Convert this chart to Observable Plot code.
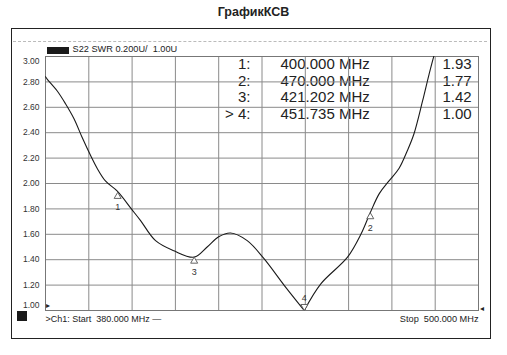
<!DOCTYPE html>
<html>
<head>
<meta charset="utf-8">
<script src="https://cdn.jsdelivr.net/npm/d3@7"></script>
<script src="https://cdn.jsdelivr.net/npm/@observablehq/plot@0.6"></script>
<style>
  html, body { margin: 0; padding: 0; background: #fff; }
  #wrap { position: relative; width: 507px; height: 355px; font-family: "Liberation Sans", Arial, sans-serif; }
  #title { position: absolute; left: 0; width: 507px; top: 5px; text-align: center; font-weight: bold; font-size: 12.5px; color: #222; }
  #box { position: absolute; left: 11px; top: 28px; width: 478px; height: 309px; border: 1.5px solid #222; }
  #dash { position: absolute; left: 13px; top: 41px; width: 474px; border-top: 1px dashed #bbb; }
  #sw1 { position: absolute; left: 47px; top: 47px; width: 22px; height: 7px; background: #1a1a1a; }
  #sw2 { position: absolute; left: 17px; top: 311px; width: 10px; height: 10px; background: #1a1a1a; }
  #chart { position: absolute; left: 0; top: 0; }
</style>
</head>
<body>
<div id="wrap">
  <div id="title">ГрафикКСВ</div>
  <div id="box"></div>
  <div id="dash"></div>
  <div id="sw1"></div>
  <div id="sw2"></div>
  <div id="chart"></div>
</div>
<script>
// Trace data (MHz, SWR)
const freqs = [380, 380.5, 383.2, 385.5, 387.9, 390.2, 392.5, 394.3, 396.6, 399.9, 403.8, 406.3, 410.5, 415.6, 421.2, 424.8, 428.0, 431.3, 435.9, 440.5, 446.1, 451.7, 456.3, 463.7, 467.4, 470.0, 472.5, 475.2, 478.0, 480.3, 482.1, 484.5, 486.3, 487.7, 488.5];
const swr   = [2.84, 2.82, 2.73, 2.63, 2.51, 2.36, 2.22, 2.12, 2.02, 1.94, 1.80, 1.71, 1.55, 1.47, 1.42, 1.50, 1.58, 1.61, 1.55, 1.41, 1.20, 1.00, 1.21, 1.42, 1.60, 1.77, 1.92, 2.02, 2.12, 2.26, 2.39, 2.65, 2.86, 3.01, 3.08];

// Markers
const markerIds = ["1", "2", "3", "4"];
const markerFreqs = [400.000, 470.000, 421.202, 451.735];
const markerValues = [1.93, 1.77, 1.42, 1.00];
const markerPrefix = ["1:", "2:", "3:", "> 4:"];

// Axis ticks
const yTicks = [1.0, 1.2, 1.4, 1.6, 1.8, 2.0, 2.2, 2.4, 2.6, 2.8, 3.0];
const xGrid = [380, 392, 404, 416, 428, 440, 452, 464, 476, 488, 500];

// Texts
const legendText = "S22 SWR 0.200U/\u00A0\u00A01.00U";
const startText = ">Ch1: Start\u00A0\u00A0380.000 MHz \u2014";
const stopText = "Stop\u00A0\u00A0500.000 MHz";

// split the trace at its minimum so the notch stays sharp
const iMin = swr.indexOf(Math.min(...swr));
const trace = [];
freqs.forEach((f, i) => {
  if (i <= iMin) trace.push({f, v: swr[i], seg: "a"});
  if (i >= iMin) trace.push({f, v: swr[i], seg: "b"});
});
const markers = markerIds.map((id, i) => ({id, f: markerFreqs[i], v: markerValues[i], down: i === 3}));

const tableMarks = [];
const font = "Liberation Sans, Arial, sans-serif";
markerIds.forEach((id, i) => {
  const dy = 8 + 16.4 * i;
  tableMarks.push(Plot.text([markerPrefix[i]], {frameAnchor: "top-left", dx: 205, dy, textAnchor: "end", lineAnchor: "middle", fontSize: 15, fill: "#222", fontFamily: font}));
  tableMarks.push(Plot.text([markerFreqs[i].toFixed(3) + " MHz"], {frameAnchor: "top-left", dx: 235, dy, textAnchor: "start", lineAnchor: "middle", fontSize: 15, fill: "#222", fontFamily: font}));
  tableMarks.push(Plot.text([markerValues[i].toFixed(2)], {frameAnchor: "top-left", dx: 397, dy, textAnchor: "start", lineAnchor: "middle", fontSize: 15, fill: "#222", fontFamily: font}));
});

const midTicks = yTicks.filter(t => t > 1.0 && t < 3.0);

const chart = Plot.plot({
  width: 507,
  height: 355,
  marginLeft: 45,
  marginRight: 29,
  marginTop: 56,
  marginBottom: 45,
  style: {background: "transparent", fontFamily: font},
  x: {domain: [380, 500], axis: null},
  y: {domain: [1, 3], axis: null},
  marks: [
    ...tableMarks,
    Plot.ruleX(xGrid, {stroke: "#8a8a8a", strokeWidth: 1}),
    Plot.ruleY(yTicks, {stroke: "#8a8a8a", strokeWidth: 1}),
    Plot.frame({stroke: "#777", strokeWidth: 1}),
    Plot.text(midTicks, {x: 380, y: d => d, text: d => d.toFixed(2), textAnchor: "end", dx: -6, fontSize: 8.5, fill: "#333", fontFamily: font}),
    Plot.text([3.0], {x: 380, y: d => d, text: d => d.toFixed(2), textAnchor: "end", dx: -6, dy: 5, fontSize: 8.5, fill: "#333", fontFamily: font}),
    Plot.text([1.0], {x: 380, y: d => d, text: d => d.toFixed(2), textAnchor: "end", dx: -6, dy: -5, fontSize: 8.5, fill: "#333", fontFamily: font}),
    Plot.line(trace, {x: "f", y: "v", z: "seg", stroke: "#1a1a1a", strokeWidth: 1.1, curve: "catmull-rom", clip: true}),
    Plot.dot(markers.filter(d => !d.down), {x: "f", y: "v", symbol: "triangle", r: 2.6, dy: 4, fill: "white", stroke: "#555", strokeWidth: 0.9}),
    Plot.dot(markers.filter(d => d.down), {x: "f", y: "v", symbol: "triangle", r: 2.6, rotate: 180, dy: -4, fill: "white", stroke: "#555", strokeWidth: 0.9}),
    Plot.text(markers.filter(d => !d.down), {x: "f", y: "v", text: "id", dy: 15, fontSize: 9, fill: "#333", fontFamily: font}),
    Plot.text(markers.filter(d => d.down), {x: "f", y: "v", text: "id", dy: -12, fontSize: 9, fill: "#333", fontFamily: font}),
    Plot.text([legendText], {frameAnchor: "top-left", dx: 27, dy: -5, textAnchor: "start", lineAnchor: "bottom", fontSize: 9.2, fill: "#222", fontFamily: font}),
    Plot.text([startText], {frameAnchor: "bottom-left", dx: 0, dy: 9, textAnchor: "start", lineAnchor: "middle", fontSize: 9, fill: "#222", fontFamily: font}),
    Plot.text([stopText], {frameAnchor: "bottom-right", dx: 0, dy: 9, textAnchor: "end", lineAnchor: "middle", fontSize: 9.2, fill: "#222", fontFamily: font}),
    Plot.text(["\u25B8"], {frameAnchor: "bottom-left", dx: 0, dy: -3, textAnchor: "start", fontSize: 8, fill: "#222"}),
    Plot.text(["\u25C2"], {frameAnchor: "bottom-right", dx: 1, dy: 0, textAnchor: "start", fontSize: 8, fill: "#222"})
  ]
});
document.getElementById("chart").appendChild(chart);
</script>
</body>
</html>
